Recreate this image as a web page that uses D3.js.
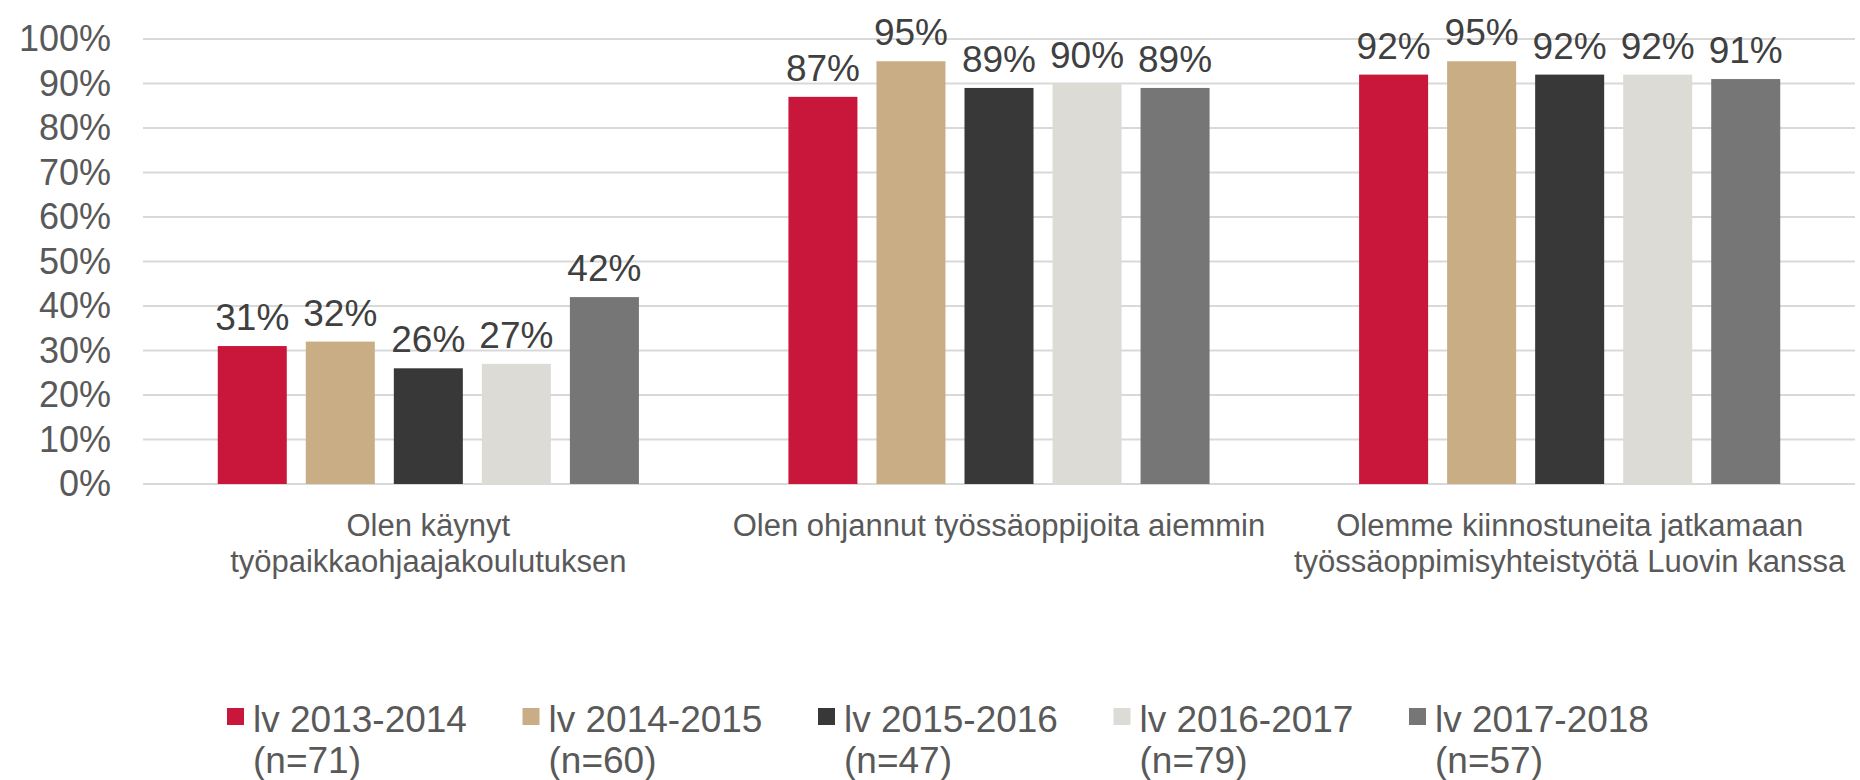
<!DOCTYPE html>
<html>
<head>
<meta charset="utf-8">
<script src="https://cdn.jsdelivr.net/npm/d3@7"></script>
<style>
  body { margin: 0; background: #fff; }
  svg { font-family: "Liberation Sans", Arial, sans-serif; }
</style>
</head>
<body>
<svg id="chart" width="1860" height="780"></svg>
<script>
//the data
const categories = [
    ["Olen käynyt", "työpaikkaohjaajakoulutuksen"],
    ["Olen ohjannut työssäoppijoita aiemmin"],
    ["Olemme kiinnostuneita jatkamaan", "työssäoppimisyhteistyötä Luovin kanssa"]
];
const seriesNames = ["lv 2013-2014", "lv 2014-2015", "lv 2015-2016", "lv 2016-2017", "lv 2017-2018"];
const seriesN = ["(n=71)", "(n=60)", "(n=47)", "(n=79)", "(n=57)"];
const values = [
    [31, 87, 92],
    [32, 95, 95],
    [26, 89, 92],
    [27, 90, 92],
    [42, 89, 91]
];
const yTicks = [0, 10, 20, 30, 40, 50, 60, 70, 80, 90, 100];
const colors = ["#c8173a", "#c9ad84", "#383838", "#dcdbd6", "#767676"];

//
//Set the sizes
var margin = {top: 39, left: 143, right: 5, bottom: 296};
var width = 1860 - margin.left - margin.right;
var height = 780 - margin.top - margin.bottom;

var svg = d3.select("#chart")
    .append("g")
    .attr("transform", "translate(" + margin.left + "," + margin.top + ")");

//
//Scales
var x0 = d3.scaleBand()
    .domain(d3.range(categories.length))
    .range([0, width]);
var groupW = x0.bandwidth() * 0.738;
var x1 = d3.scaleBand()
    .domain(d3.range(seriesNames.length))
    .range([0, groupW])
    .paddingInner(0.216);
var y = d3.scaleLinear()
    .domain([0, 100])
    .range([height, 0]);

//
//Gridlines
svg.append("g")
    .selectAll("line")
    .data(yTicks)
    .enter()
    .append("line")
    .attr("x1", 0)
    .attr("x2", width)
    .attr("y1", (d) => y(d))
    .attr("y2", (d) => y(d))
    .style("stroke", "#d9d9d9")
    .style("stroke-width", 2);

//
//Y axis labels
var yAxis = svg.append("g")
    .call(d3.axisLeft(y).tickValues(yTicks).tickSize(0).tickPadding(32).tickFormat((d) => d + "%"));
yAxis.select(".domain").remove();
yAxis.selectAll("text")
    .style("font-size", "36px")
    .style("fill", "#595959")
    .style("font-family", "'Liberation Sans', Arial, sans-serif");

//
//Bars
var groups = svg.selectAll(".grp")
    .data(categories)
    .enter()
    .append("g")
    .attr("class", "grp")
    .attr("transform", (d, i) => "translate(" + (x0(i) + (x0.bandwidth() - groupW) / 2) + ",0)");

groups.selectAll("rect")
    .data((d, ci) => values.map((s, si) => ({si: si, v: s[ci]})))
    .enter()
    .append("rect")
    .attr("x", (d) => x1(d.si))
    .attr("y", (d) => y(d.v))
    .attr("width", x1.bandwidth())
    .attr("height", (d) => height - y(d.v))
    .style("fill", (d) => colors[d.si]);

//
//Value labels
groups.selectAll(".val")
    .data((d, ci) => values.map((s, si) => ({si: si, v: s[ci]})))
    .enter()
    .append("text")
    .attr("class", "val")
    .attr("x", (d) => x1(d.si) + x1.bandwidth() / 2)
    .attr("y", (d) => y(d.v) - 16)
    .attr("text-anchor", "middle")
    .style("font-size", "37px")
    .style("fill", "#404040")
    .text((d) => d.v + "%");

//
//Category labels
svg.append("g")
    .selectAll("text")
    .data(categories)
    .enter()
    .append("text")
    .attr("x", (d, i) => x0(i) + x0.bandwidth() / 2)
    .attr("y", height + 52)
    .attr("text-anchor", "middle")
    .style("font-size", "31px")
    .style("fill", "#595959")
    .selectAll("tspan")
    .data((d) => d)
    .enter()
    .append("tspan")
    .attr("x", function () { return d3.select(this.parentNode).attr("x"); })
    .attr("dy", (d, i) => i === 0 ? 0 : 36)
    .text((d) => d);

//
//Legend
var legend = d3.select("#chart")
    .append("g")
    .selectAll("g")
    .data(seriesNames)
    .enter()
    .append("g")
    .attr("transform", (d, i) => "translate(" + (227 + i * 295.5) + ",0)");

legend.append("rect")
    .attr("x", 0)
    .attr("y", 708)
    .attr("width", 17)
    .attr("height", 17)
    .style("fill", (d, i) => colors[i]);

legend.append("text")
    .attr("x", 26)
    .attr("y", 732)
    .style("font-size", "37px")
    .style("fill", "#595959")
    .text((d) => d);

legend.append("text")
    .attr("x", 26)
    .attr("y", 773)
    .style("font-size", "37px")
    .style("fill", "#595959")
    .text((d, i) => seriesN[i]);
</script>
</body>
</html>
